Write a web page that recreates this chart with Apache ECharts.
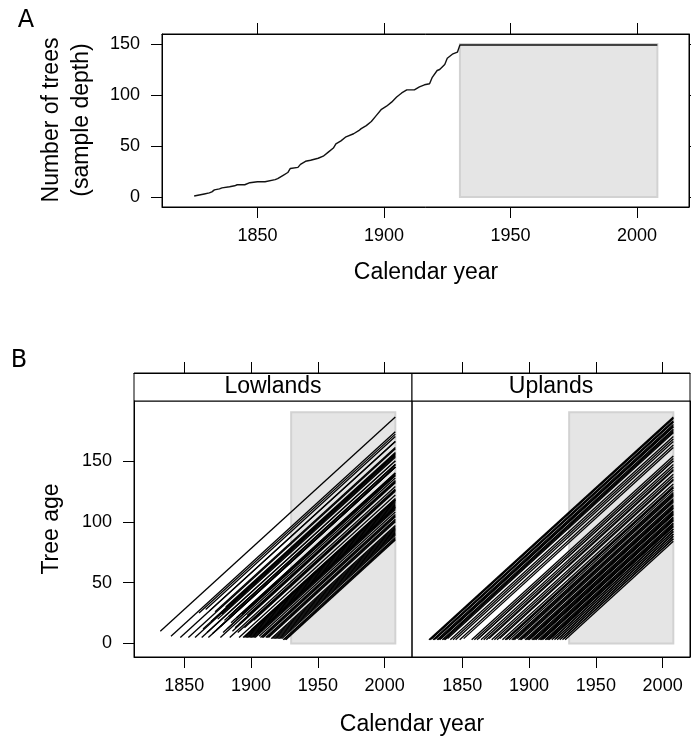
<!DOCTYPE html>
<html>
<head>
<meta charset="utf-8">
<title>Sample depth and tree age</title>
<script src="https://cdn.jsdelivr.net/npm/echarts@6/dist/echarts.min.js"></script>
<style>
  html, body { margin: 0; padding: 0; background: #fff; }
  #main { width: 691px; height: 738px; }
</style>
</head>
<body>
<div id="main"></div>
<script>
// panel A: number of trees in the chronology (sample depth)
const depthYears = [1825, 1827, 1829, 1831, 1832, 1833, 1835, 1836, 1839, 1841, 1842, 1845, 1847, 1850, 1853,
  1857, 1858, 1860, 1862, 1863, 1866, 1867, 1869, 1871, 1874, 1876, 1878, 1880, 1881, 1883,
  1885, 1888, 1890, 1891, 1893, 1895, 1897, 1899, 1901, 1903, 1905, 1907, 1909, 1912, 1914,
  1916, 1918, 1919, 1921, 1922, 1924, 1925, 1927, 1929, 1930, 2008]
const depthCounts = [1, 2, 3, 4, 5, 7, 8, 9, 10, 11, 12, 12, 14, 15, 15,
  17, 18, 21, 24, 28, 29, 32, 35, 36, 38, 40, 44, 48, 52, 55,
  59, 62, 65, 67, 70, 74, 80, 86, 89, 93, 98, 102, 105, 105, 108,
  110, 111, 117, 124, 125, 130, 136, 140, 142, 149, 149]

// panel B: first measured year of each tree and its age in that year
const lowFirstYear = [1832, 1840, 1847, 1853, 1858, 1861, 1863, 1864, 1866, 1867,
  1868, 1869, 1870, 1871, 1873, 1874, 1875, 1877, 1877, 1878,
  1879, 1880, 1881, 1882, 1883, 1884, 1885, 1886, 1887, 1888,
  1889, 1890, 1891, 1891, 1893, 1894, 1895, 1895, 1896, 1897,
  1897, 1898, 1898, 1899, 1899, 1900, 1900, 1901, 1902, 1902,
  1903, 1904, 1905, 1906, 1907, 1908, 1909, 1911, 1912, 1913,
  1915, 1916, 1917, 1918, 1919, 1920, 1921, 1922, 1923, 1924,
  1925, 1926]
const lowFirstAge = [10, 6, 5, 5, 5, 25, 5, 12, 28, 9,
  5, 27, 18, 8, 26, 11, 20, 5, 14, 24,
  9, 19, 30, 12, 22, 5, 17, 10, 26, 13,
  21, 9, 5, 16, 24, 5, 5, 13, 5, 5,
  23, 5, 8, 5, 17, 5, 11, 5, 5, 19,
  5, 14, 9, 6, 5, 5, 5, 5, 5, 5,
  4, 4, 4, 4, 4, 4, 4, 4, 4, 3,
  3, 3]
const upFirstYear = [1825, 1826, 1827, 1828, 1829, 1830, 1831, 1832, 1833, 1834, 1835, 1836, 1837, 1839, 1841,
  1843, 1845, 1848, 1851, 1857, 1859, 1861, 1862, 1864, 1866, 1868, 1870, 1872, 1874, 1876,
  1878, 1880, 1882, 1883, 1884, 1885, 1887, 1888, 1889, 1891, 1892, 1893, 1894, 1896, 1897,
  1898, 1899, 1900, 1901, 1902, 1903, 1904, 1905, 1906, 1907, 1908, 1909, 1910, 1911, 1912,
  1913, 1914, 1915, 1916, 1917, 1918, 1919, 1920, 1921, 1922, 1923, 1924, 1925, 1926, 1927]
const upFirstAge = [3, 3, 4, 3, 3, 4, 3, 3, 3, 4, 3, 3, 3, 4, 3,
  3, 3, 3, 4, 3, 3, 3, 4, 3, 3, 3, 4, 3, 3, 3,
  4, 3, 3, 3, 4, 3, 3, 3, 3, 4, 3, 3, 3, 4, 3,
  3, 3, 3, 4, 3, 3, 3, 3, 4, 3, 3, 3, 3, 4, 3,
  3, 3, 3, 4, 3, 4, 3, 4, 3, 4, 3, 4, 3, 4, 3]
const lastYear = 2008

const shadeYears = [1930, 2008]
const depthShade = [0, 150]
const ageShade = [0, 190]
const yearTicks = [1850, 1900, 1950, 2000]
const countTicks = [0, 50, 100, 150]

const font = "'Liberation Sans', Arial, sans-serif"
const chart = echarts.init(document.getElementById('main'))

function treeLines(firstYear, firstAge) {
  return firstYear.map((y, i) => ({
    coords: [[y, firstAge[i]], [lastYear, firstAge[i] + lastYear - y]]
  }))
}

function xAx(grid, pos, labels, offset) {
  return {
    gridIndex: grid,
    type: 'value',
    position: pos,
    offset: offset || 0,
    min: 1812.3,
    max: 2020.5,
    axisLine: { show: true, onZero: false, lineStyle: { color: '#000', width: 1 } },
    splitLine: { show: false },
    axisTick: { show: true, inside: false, length: 11, customValues: yearTicks, lineStyle: { color: '#000', width: 1 } },
    axisLabel: {
      show: labels, customValues: yearTicks, margin: 20, fontSize: 18, color: '#000', fontFamily: font,
      formatter: v => String(v)
    }
  }
}

function yAx(grid, pos, labels, min, max) {
  return {
    gridIndex: grid,
    type: 'value',
    position: pos,
    min: min,
    max: max,
    axisLine: { show: true, onZero: false, lineStyle: { color: '#000', width: 1 } },
    splitLine: { show: false },
    axisTick: { show: true, inside: false, length: 11, customValues: countTicks, lineStyle: { color: '#000', width: 1 } },
    axisLabel: {
      show: labels, customValues: countTicks, margin: 22, fontSize: 18, color: '#000', fontFamily: font,
      formatter: v => String(v)
    }
  }
}

function shade(xi, yi, top) {
  return {
    type: 'line',
    xAxisIndex: xi,
    yAxisIndex: yi,
    data: [],
    z: 1,
    silent: true,
    markArea: {
      silent: true,
      itemStyle: { color: '#e5e5e5', borderColor: '#d2d2d2', borderWidth: 2 },
      data: [[{ coord: [shadeYears[0], top[0]] }, { coord: [shadeYears[1], top[1]] }]]
    }
  }
}

function txt(x, y, text, size, rot, fam) {
  return {
    type: 'text',
    x: x,
    y: y,
    rotation: rot || 0,
    style: {
      text: text,
      fill: '#000',
      font: size + 'px ' + (fam || font),
      align: 'center',
      verticalAlign: 'middle',
      textAlign: 'center',
      textVerticalAlign: 'middle'
    }
  }
}

const option = {
  animation: false,
  backgroundColor: '#fff',
  grid: [
    { left: 162, top: 34, width: 527, height: 173, show: true, borderColor: '#000', borderWidth: 1 },
    { left: 134, top: 401, width: 278, height: 256, show: true, borderColor: '#000', borderWidth: 1 },
    { left: 412, top: 401, width: 278, height: 256, show: true, borderColor: '#000', borderWidth: 1 }
  ],
  xAxis: [
    xAx(0, 'bottom', true),
    xAx(0, 'top', false),
    xAx(1, 'bottom', true),
    xAx(2, 'bottom', true),
    xAx(1, 'top', false, 28),
    xAx(2, 'top', false, 28)
  ],
  yAxis: [
    yAx(0, 'left', true, -9.8, 159.8),
    yAx(0, 'right', false, -9.8, 159.8),
    yAx(1, 'left', true, -11.1, 199.2),
    yAx(2, 'right', false, -11.1, 199.2)
  ],
  series: [
    shade(0, 0, depthShade),
    {
      type: 'line',
      xAxisIndex: 0,
      yAxisIndex: 0,
      z: 3,
      showSymbol: false,
      lineStyle: { color: '#111', width: 1.4 },
      data: depthYears.map((y, i) => [y, depthCounts[i]])
    },
    shade(2, 2, ageShade),
    {
      type: 'lines',
      coordinateSystem: 'cartesian2d',
      xAxisIndex: 2,
      yAxisIndex: 2,
      z: 3,
      silent: true,
      lineStyle: { color: '#000', width: 1.3, opacity: 1 },
      data: treeLines(lowFirstYear, lowFirstAge)
    },
    shade(3, 3, ageShade),
    {
      type: 'lines',
      coordinateSystem: 'cartesian2d',
      xAxisIndex: 3,
      yAxisIndex: 3,
      z: 3,
      silent: true,
      lineStyle: { color: '#000', width: 1.3, opacity: 1 },
      data: treeLines(upFirstYear, upFirstAge)
    }
  ],
  graphic: [
    { type: 'rect', shape: { x: 134, y: 373, width: 278, height: 28 }, style: { fill: '#fff', stroke: '#000', lineWidth: 1 } },
    { type: 'rect', shape: { x: 412, y: 373, width: 278, height: 28 }, style: { fill: '#fff', stroke: '#000', lineWidth: 1 } },
    txt(273, 387, 'Lowlands', 23),
    txt(551, 387, 'Uplands', 23),
    txt(26, 21, 'A', 24, 0, "'DejaVu Sans', sans-serif"),
    txt(19, 361, 'B', 24, 0, "'DejaVu Sans', sans-serif"),
    txt(52, 120, 'Number of trees', 23, Math.PI / 2),
    txt(82, 120, '(sample depth)', 23, Math.PI / 2),
    txt(52, 529, 'Tree age', 23, Math.PI / 2),
    txt(426, 273, 'Calendar year', 23),
    txt(412, 725, 'Calendar year', 23)
  ]
}

chart.setOption(option)
</script>
</body>
</html>
